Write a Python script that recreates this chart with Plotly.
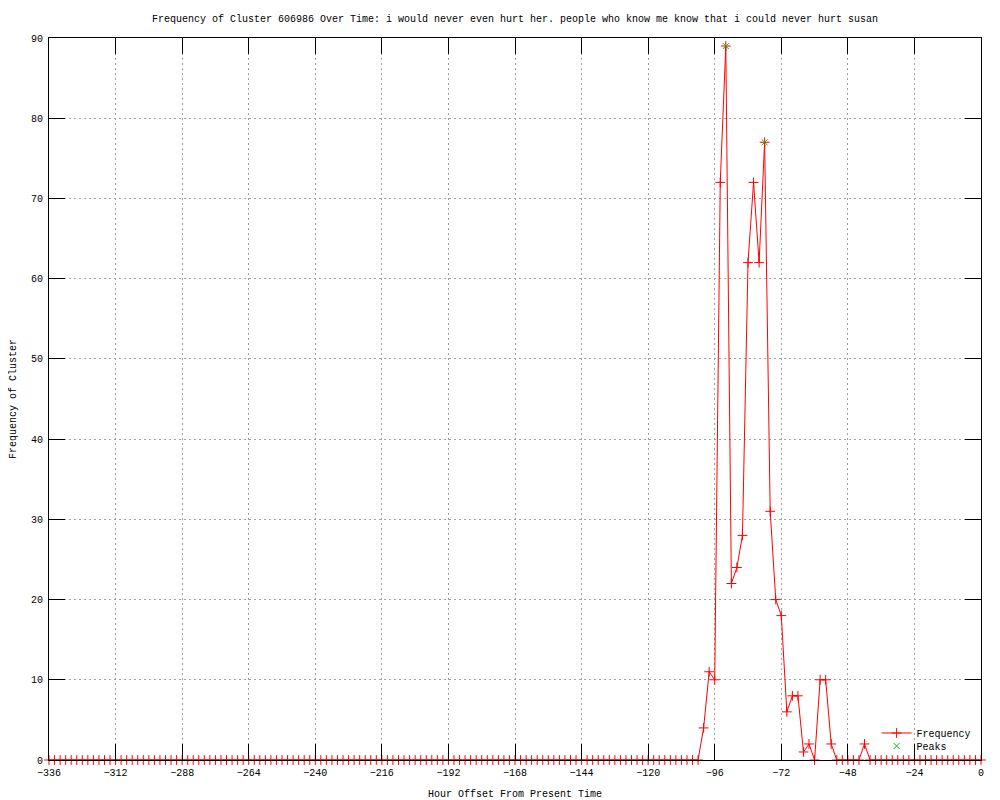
import plotly.graph_objects as go

title_text = ("Frequency of Cluster 606986 Over Time: i would never even hurt her. "
              "people who know me know that i could never hurt susan")

# hours from -336 to 0, every 2 hours
hours = list(range(-336, 1, 2))

frequency = [
    0, 0, 0, 0, 0, 0, 0, 0, 0, 0, 0, 0,   # -336 .. -314
    0, 0, 0, 0, 0, 0, 0, 0, 0, 0, 0, 0,   # -312 .. -290
    0, 0, 0, 0, 0, 0, 0, 0, 0, 0, 0, 0,   # -288 .. -266
    0, 0, 0, 0, 0, 0, 0, 0, 0, 0, 0, 0,   # -264 .. -242
    0, 0, 0, 0, 0, 0, 0, 0, 0, 0, 0, 0,   # -240 .. -218
    0, 0, 0, 0, 0, 0, 0, 0, 0, 0, 0, 0,   # -216 .. -194
    0, 0, 0, 0, 0, 0, 0, 0, 0, 0, 0, 0,   # -192 .. -170
    0, 0, 0, 0, 0, 0, 0, 0, 0, 0, 0, 0,   # -168 .. -146
    0, 0, 0, 0, 0, 0, 0, 0, 0, 0, 0, 0,   # -144 .. -122
    0, 0, 0, 0, 0, 0, 0, 0, 0, 0,         # -120 .. -102
    4, 11, 10, 72, 89, 22, 24, 28, 62, 72, 62, 77,   # -100 .. -78
    31, 20, 18, 6, 8, 8, 1, 2, 0, 10, 10, 2,         # -76 .. -54
    0, 0, 0, 0, 0, 2,                                # -52 .. -42
    0, 0, 0, 0, 0, 0, 0, 0, 0, 0, 0, 0,   # -40 .. -18
    0, 0, 0, 0, 0, 0, 0, 0, 0,            # -16 .. 0
]

peak_hours = [-92, -78]
peak_values = [89, 77]

x_ticks = list(range(-336, 1, 24))
y_ticks = list(range(0, 91, 10))

FONT = "Liberation Mono, DejaVu Sans Mono, monospace"

fig = go.Figure()
fig.add_trace(go.Scatter(
    x=hours, y=frequency, name="Frequency", mode="lines+markers",
    line=dict(color="#ff0000", width=1),
    marker=dict(symbol="cross-thin", size=7, line=dict(color="#ff0000", width=1)),
    cliponaxis=False, legend="legend",
))
fig.add_trace(go.Scatter(
    x=peak_hours, y=peak_values, name="Peaks", mode="markers",
    marker=dict(symbol="x-thin", size=6, line=dict(color="#00c000", width=1)),
    cliponaxis=False, legend="legend2",
))

axis_common = dict(
    showline=True, linecolor="black", linewidth=1, mirror="ticks",
    ticks="inside", ticklen=16, tickcolor="black", tickwidth=1,
    showgrid=True, gridcolor="#a0a0a0", griddash="2px,3px", gridwidth=1,
    zeroline=False, automargin=False, ticklabelstandoff=3,
    tickfont=dict(family=FONT, size=10, color="black"),
)

legend_common = dict(
    xanchor="left", yanchor="middle", bgcolor="rgba(0,0,0,0)",
    font=dict(family=FONT, size=10, color="black"), itemwidth=30,
    borderwidth=0,
)

# page body has an 8px margin, so the figure is 992x792 and offsets are reduced by 8
fig.update_layout(
    width=992, height=792,
    margin=dict(l=41, r=19, t=30, b=40, pad=0),
    paper_bgcolor="white", plot_bgcolor="white",
    font=dict(family=FONT, size=10, color="black"),
    title=dict(text=title_text, xref="paper", x=0.5, xanchor="center",
               y=0.987, yanchor="middle",
               font=dict(family=FONT, size=10, color="black")),
    xaxis=dict(range=[-336, 0], tickvals=x_ticks,
               title=dict(text="Hour Offset From Present Time", standoff=12,
                          font=dict(family=FONT, size=10)),
               **axis_common),
    yaxis=dict(range=[0, 90], tickvals=y_ticks,
               title=dict(text="Frequency of Cluster", standoff=15,
                          font=dict(family=FONT, size=10)),
               **axis_common),
    showlegend=True,
    legend=dict(x=0.888, y=0.0374, **legend_common),
    legend2=dict(x=0.888, y=0.0194, **legend_common),
)

fig.write_html("out.html")
